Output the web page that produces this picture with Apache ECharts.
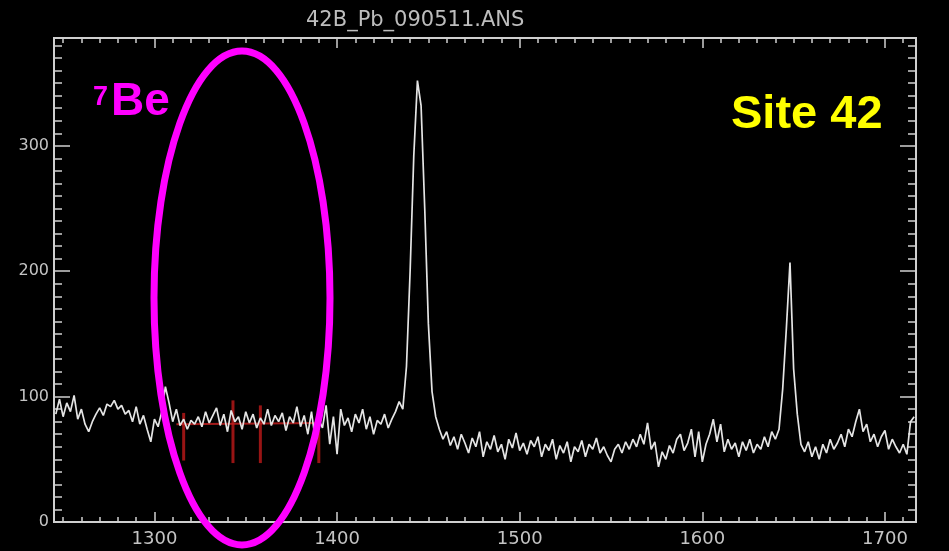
<!DOCTYPE html>
<html><head><meta charset="utf-8">
<script src="https://cdn.jsdelivr.net/npm/echarts@6/dist/echarts.min.js"></script>
<style>html,body{margin:0;padding:0;background:#000;}#c{width:949px;height:551px;}</style>
</head><body><div id="c"></div>
<script>
const titleText = '42B_Pb_090511.ANS';
const energyStart = 1246;
const energyStep = 2;
const counts = [
 86, 98, 84, 95, 88, 101, 82, 90, 78, 72,
 80, 86, 91, 85, 94, 92, 97, 90, 93, 86,
 89, 80, 92, 78, 85, 74, 64, 82, 76, 88,
 108, 95, 80, 90, 77, 82, 74, 81, 78, 84,
 76, 88, 79, 85, 91, 77, 86, 72, 89, 80,
 84, 74, 88, 79, 86, 75, 83, 78, 90, 77,
 85, 80, 87, 73, 84, 79, 92, 76, 85, 70,
 88, 66, 82, 75, 93, 62, 84, 54, 90, 77,
 83, 72, 86, 79, 90, 74, 84, 70, 81, 78,
 86, 75, 82, 88, 96, 90, 124, 200, 292, 352,
 332, 250, 158, 104, 84, 74, 66, 72, 61, 68,
 58, 70, 63, 55, 67, 60, 72, 52, 64, 58,
 69, 56, 62, 50, 66, 59, 71, 57, 63, 54,
 65, 60, 68, 52, 62, 57, 66, 50, 61, 55,
 64, 48, 60, 56, 65, 52, 62, 58, 67, 55,
 60, 53, 48, 58, 62, 55, 64, 58, 66, 60,
 70, 62, 79, 58, 64, 44, 56, 50, 61, 55,
 66, 70, 57, 63, 74, 52, 72, 48, 62, 70,
 82, 64, 78, 56, 66, 58, 63, 52, 64, 57,
 66, 55, 62, 58, 68, 60, 72, 66, 74, 106,
 154, 207, 122, 86, 62, 56, 64, 52, 60, 50,
 62, 55, 66, 58, 63, 70, 60, 74, 68, 80,
 90, 72, 78, 64, 70, 60, 68, 73, 58, 66,
 60, 55, 62, 54, 80, 84
];
const fitEnergies = [1312, 1391];
const fitCounts = [78, 79];
const barEnergies = [1316, 1343, 1358, 1390];
const barLow = [49, 47, 47, 47];
const barHigh = [87, 97, 93, 73];
const xTickLabels = [1300, 1400, 1500, 1600, 1700];
const yTickLabels = [0, 100, 200, 300];
const xMin = 1245, xMax = 1717, yMin = 0, yMax = 386;
const xMinorTicks = []; for (let v = 1250; v <= 1710; v += 10) xMinorTicks.push(v);
const yMinorTicks = []; for (let v = 0; v <= 380; v += 10) yMinorTicks.push(v);

const AX = '#cfcfcf';
const plain = function (v) { return String(v); };
function xAx(pos, ticks, len, labels) {
  return { type: 'value', position: pos, min: xMin, max: xMax,
    axisLine: { show: true, onZero: false, lineStyle: { color: AX, width: 2 } },
    axisTick: { show: true, inside: true, length: len, customValues: ticks, lineStyle: { color: AX, width: 1.5 } },
    axisLabel: labels ? { show: true, customValues: labels, formatter: plain, color: '#c4c4c4', fontSize: 18, margin: 8, fontFamily: 'DejaVu Sans' } : { show: false },
    splitLine: { show: false } };
}
function yAx(pos, ticks, len, labels) {
  return { type: 'value', position: pos, min: yMin, max: yMax,
    axisLine: { show: true, onZero: false, lineStyle: { color: AX, width: 2 } },
    axisTick: { show: true, inside: true, length: len, customValues: ticks, lineStyle: { color: AX, width: 1.5 } },
    axisLabel: labels ? { show: true, customValues: labels, formatter: plain, color: '#c4c4c4', fontSize: 16, margin: 5, fontFamily: 'DejaVu Sans' } : { show: false },
    splitLine: { show: false } };
}

const chart = echarts.init(document.getElementById('c'), null, { renderer: 'canvas' });
chart.setOption({
  backgroundColor: '#000',
  animation: false,
  title: { text: titleText, left: 301, top: 5, textStyle: { color: '#bdbdbd', fontSize: 21, fontWeight: 'normal', fontFamily: 'DejaVu Sans' } },
  grid: { left: 54, right: 33, top: 38, bottom: 29, containLabel: false },
  xAxis: [
    xAx('bottom', xTickLabels, 10, xTickLabels),
    xAx('bottom', xMinorTicks, 5, null),
    xAx('top', xTickLabels, 10, null),
    xAx('top', xMinorTicks, 5, null)
  ],
  yAxis: [
    yAx('left', yTickLabels, 16, yTickLabels),
    yAx('left', yMinorTicks, 8, null),
    yAx('right', yTickLabels, 16, null),
    yAx('right', yMinorTicks, 8, null)
  ],
  series: [
    { type: 'custom', xAxisIndex: 0, yAxisIndex: 0, z: 1,
      data: barEnergies.map((e, i) => [e, barLow[i], barHigh[i]]),
      renderItem: function (params, api) {
        const p1 = api.coord([api.value(0), api.value(1)]);
        const p2 = api.coord([api.value(0), api.value(2)]);
        return { type: 'line', shape: { x1: p1[0], y1: p1[1], x2: p2[0], y2: p2[1] },
          style: { stroke: 'rgba(190,25,25,0.8)', lineWidth: 3 } };
      } },
    { type: 'line', xAxisIndex: 0, yAxisIndex: 0, z: 2, showSymbol: false,
      data: fitEnergies.map((e, i) => [e, fitCounts[i]]),
      lineStyle: { color: 'rgba(190,30,30,0.85)', width: 2 } },
    { type: 'line', xAxisIndex: 0, yAxisIndex: 0, z: 3, showSymbol: false,
      data: counts.map((c, i) => [energyStart + i * energyStep, c]),
      lineStyle: { color: '#e4e4e4', width: 1.7 } }
  ],
  graphic: [
    { type: 'ellipse', z: 100, shape: { cx: 242, cy: 298, rx: 88, ry: 247 },
      style: { fill: 'none', stroke: '#ff00ff', lineWidth: 7 } },
    { type: 'text', z: 101, left: 93, top: 84,
      style: { text: '7', fill: '#ff00ff', font: 'bold 27px "Liberation Sans", Arial, sans-serif' } },
    { type: 'text', z: 101, left: 111, top: 79,
      style: { text: 'Be', fill: '#ff00ff', font: 'bold 46px "Liberation Sans", Arial, sans-serif' } },
    { type: 'text', z: 101, left: 731, top: 92,
      style: { text: 'Site 42', fill: '#ffff00', font: 'bold 47px "Liberation Sans", Arial, sans-serif' } }
  ]
});
</script>
</body></html>
